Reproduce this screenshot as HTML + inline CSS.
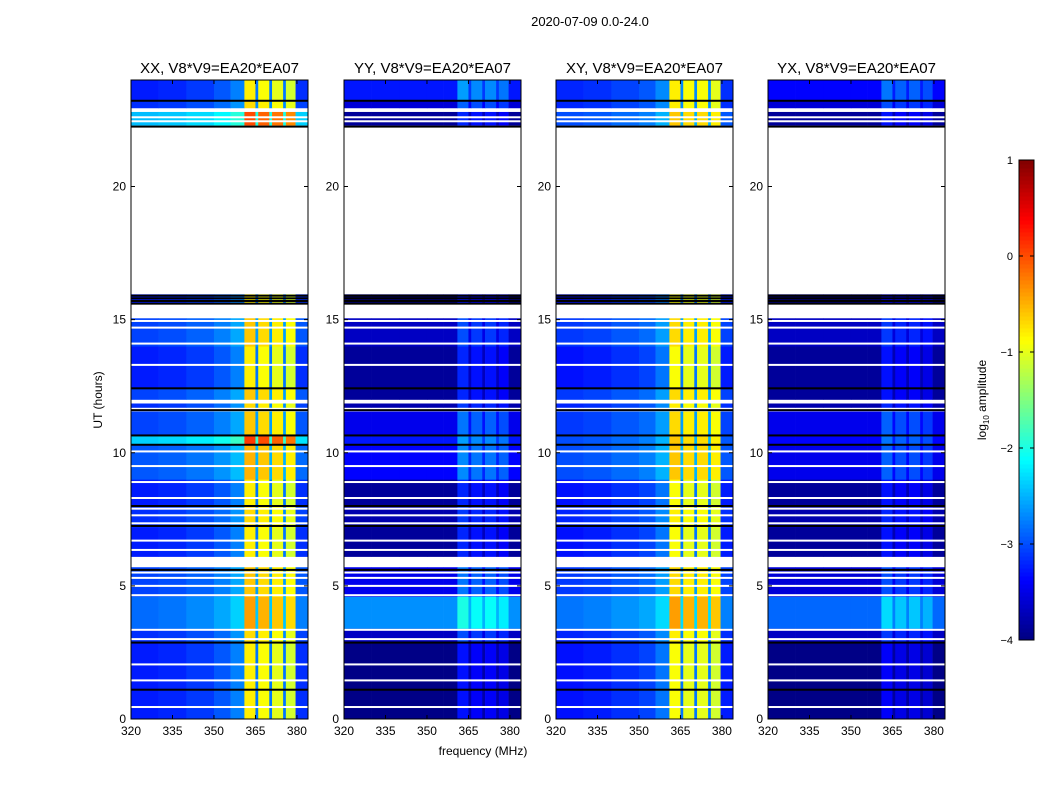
<!DOCTYPE html>
<html><head><meta charset="utf-8"><style>
body{margin:0;background:#fff;}
svg{display:block;font-family:"Liberation Sans",sans-serif;}
</style></head><body>
<svg id="fig" width="1050" height="800"></svg>
<script>
// ---- data ----
const timeRowStart=[0,1.1,2.9,3.4,4.6,6.1,7.2,8.0,9.0,10.3,10.65,11.7,12.0,12.45,14.0,15.6,22.3,22.95,23.25];
const timeRowEnd  =[1.1,2.85,3.4,4.6,5.7,7.2,8.0,9.0,10.3,10.65,11.55,11.85,12.4,14.0,15.05,15.95,22.8,23.2,24.0];
const freqEdges=[320,330,340,350,356,361,365,366,370,371,375,376,379.5,384];
const profileXX=[-3.35,-3.3,-3.2,-3.05,-2.85,-0.9,-2.9,-1.0,-2.9,-1.1,-2.9,-1.2,-3.25];
const profileYY=[-3.97,-3.97,-3.97,-3.97,-3.97,-3.3,-3.8,-3.4,-3.8,-3.4,-3.8,-3.5,-3.97];
const profileXY=[-3.4,-3.35,-3.25,-3.15,-2.9,-1.0,-2.9,-1.1,-2.9,-1.1,-2.9,-1.2,-3.35];
const profileYX=[-3.97,-3.97,-3.97,-3.97,-3.97,-3.4,-3.85,-3.5,-3.85,-3.5,-3.85,-3.6,-3.97];
const offsetXX=[0.1,0.1,0.2,0.5,0.3,0.1,0.2,0.1,0.4,1.0,0.3,0.2,0.3,0.1,0.3,0.1,0.9,0.2,0.1];
const offsetYY=[0,0,0.3,1.3,0.5,0.1,0.2,0.1,0.6,0.7,0.5,0.2,0.1,0.1,0.3,0,0.1,0.4,0.7];
const offsetXY=[0.1,0.1,0.2,0.6,0.3,0.1,0.2,0.1,0.4,0.4,0.3,0.2,0.3,0.1,0.3,0.1,0.4,0.2,0.2];
const offsetYX=[0,0,0.3,1.1,0.4,0.1,0.2,0.1,0.5,0.6,0.5,0.2,0.1,0.1,0.3,0,0.1,0.4,0.6];
const whiteLines=[0.45,1.45,2.05,3.0,3.35,4.65,5.0,5.3,5.5,6.35,6.7,7.35,7.65,7.9,8.3,8.9,9.5,10.05,13.3,14.1,14.7,14.95,22.45,22.6];
const blackLines=[1.1,2.87,5.6,7.25,8.0,10.3,10.65,11.6,12.42,15.6,15.7,15.8,15.9,22.25,23.22];
const yTicks=[0,5,10,15,20];
const xTicks=[320,335,350,365,380];
const cbTicks=[-4,-3,-2,-1,0,1];
const panelTitles=["XX, V8*V9=EA20*EA07","YY, V8*V9=EA20*EA07","XY, V8*V9=EA20*EA07","YX, V8*V9=EA20*EA07"];
const panelLeft=[131,344,556,768];
// ---- layout ----
const PW=177, PT=80, PB=719;
const NS="http://www.w3.org/2000/svg";
const svg=document.getElementById('fig');
function mk(t,a,p){const e=document.createElementNS(NS,t);for(const k in a)e.setAttribute(k,a[k]);(p||svg).appendChild(e);return e;}
function yS(h){return PB-(h/24)*(PB-PT);}
function jet(v){let t=(v+4)/5;t=Math.max(0,Math.min(1,t));
 const f=x=>Math.max(0,Math.min(1,x));
 const r=f(1.5-Math.abs(4*t-3)),g=f(1.5-Math.abs(4*t-2)),b=f(1.5-Math.abs(4*t-1));
 return `rgb(${Math.round(r*255)},${Math.round(g*255)},${Math.round(b*255)})`;}
const profiles=[profileXX,profileYY,profileXY,profileYX];
const offsets=[offsetXX,offsetYY,offsetXY,offsetYX];
let t=mk('text',{x:590,y:26,'text-anchor':'middle','font-size':13});t.textContent='2020-07-09 0.0-24.0';

for(let p=0;p<4;p++){
 const L=panelLeft[p];
 const xS=f=>L+(f-320)/64*PW;
 const g=mk('g',{});
 
 
 for(let r=0;r<timeRowStart.length;r++){
  for(let c=0;c<freqEdges.length-1;c++){
   const y1=yS(timeRowEnd[r]),y2=yS(timeRowStart[r]);
   const cell=mk('rect',{x:xS(freqEdges[c]),y:y1,width:xS(freqEdges[c+1])-xS(freqEdges[c])+0.3,height:y2-y1+0.3,fill:jet(profiles[p][c]+offsets[p][r])},g);
   
   
  }
 }
 whiteLines.forEach(h=>{const l=mk('rect',{x:L,y:yS(h)-1,width:PW,height:2,fill:'#fff'},g);
  });
 blackLines.forEach(h=>{const l=mk('rect',{x:L,y:yS(h)-1,width:PW,height:2,fill:'#000'},g);
  });
 const fr=mk('rect',{x:L,y:PT,width:PW,height:PB-PT,fill:'none',stroke:'#000','stroke-width':1},g);
 
 yTicks.forEach(v=>{const y=yS(v);
  mk('line',{x1:L,x2:L+4,y1:y,y2:y,stroke:'#000'},g);mk('line',{x1:L+PW-4,x2:L+PW,y1:y,y2:y,stroke:'#000'},g);
  const tl=mk('text',{x:L-5,y:y+4,'text-anchor':'end','font-size':12},g);tl.textContent=v;
  });
 xTicks.forEach(v=>{const x=xS(v);
  mk('line',{x1:x,x2:x,y1:PB,y2:PB-4,stroke:'#000'},g);mk('line',{x1:x,x2:x,y1:PT,y2:PT+4,stroke:'#000'},g);
  const tl=mk('text',{x:x,y:PB+16,'text-anchor':'middle','font-size':12},g);tl.textContent=v;
  });
 const ti=mk('text',{x:L+PW/2,y:73,'text-anchor':'middle','font-size':15},g);ti.textContent=panelTitles[p];
 
}
t=mk('text',{x:483,y:755,'text-anchor':'middle','font-size':12});t.textContent='frequency (MHz)';

t=mk('text',{x:0,y:0,'text-anchor':'middle','font-size':12,transform:'translate(102,400) rotate(-90)'});t.textContent='UT (hours)';

// colorbar
const CX=1019,CW=15,CT=160,CB=640;
const cb=mk('g',{});
for(let i=0;i<120;i++){const v0=-4+5*i/120;
 mk('rect',{x:CX,y:CB-(i+1)*(CB-CT)/120,width:CW,height:(CB-CT)/120+0.5,fill:jet(v0+5/240)},cb);}
mk('rect',{x:CX,y:CT,width:CW,height:CB-CT,fill:'none',stroke:'#000'},cb);
cbTicks.forEach(v=>{const y=CB-(v+4)/5*(CB-CT);
 mk('line',{x1:CX,x2:CX+4,y1:y,y2:y,stroke:'#000'},cb);mk('line',{x1:CX+CW-4,x2:CX+CW,y1:y,y2:y,stroke:'#000'},cb);
 const tl=mk('text',{x:1013,y:y+4,'text-anchor':'end','font-size':11},cb);tl.textContent=v<0?'\u2212'+(-v):v;
 });
t=mk('text',{x:0,y:0,'text-anchor':'middle','font-size':12,transform:'translate(986,400) rotate(-90)'});
t.innerHTML='log<tspan font-size="8" dy="3">10</tspan><tspan dy="-3"> amplitude</tspan>';

</script>
</body></html>
